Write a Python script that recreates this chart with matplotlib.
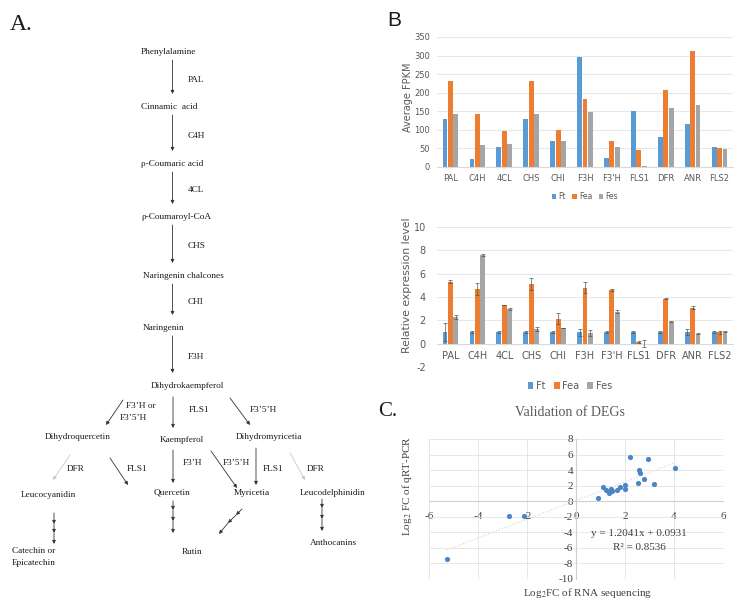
import matplotlib.pyplot as plt
import numpy as np

W, H = 749, 605

genes = ['PAL', 'C4H', '4CL', 'CHS', 'CHI', 'F3H', "F3'H", 'FLS1', 'DFR', 'ANR', 'FLS2']
groups = ['Ft', 'Fea', 'Fes']
colors = ['#5B9BD5', '#ED7D31', '#A5A5A5']

# B (top) average FPKM
fpkm_ft = [128, 22, 55, 128, 71, 295, 23, 152, 81, 117, 55]
fpkm_fea = [232, 143, 97, 232, 99, 184, 69, 47, 207, 311, 52]
fpkm_fes = [144, 58, 63, 144, 70, 147, 54, 4, 160, 168, 49]

# B (bottom) relative expression + error
rel_ft = [1, 1, 1, 1, 1, 1, 1, 1, 1, 1, 1]
rel_fea = [5.3, 4.7, 3.32, 5.1, 2.15, 4.8, 4.6, 0.12, 3.85, 3.1, 0.97]
rel_fes = [2.28, 7.6, 3.0, 1.25, 1.35, 0.9, 2.75, 0.0, 1.9, 0.85, 1.02]
err_ft = [0.75, 0.12, 0.05, 0.05, 0.12, 0.3, 0.05, 0.1, 0.05, 0.22, 0.05]
err_fea = [0.12, 0.5, 0.03, 0.5, 0.5, 0.45, 0.07, 0.1, 0.03, 0.1, 0.15]
err_fes = [0.15, 0.1, 0.1, 0.15, 0.03, 0.25, 0.1, 0.28, 0.03, 0.05, 0.05]

# C scatter
rna_fc = [-5.28, -2.73, -2.12, 0.91, 1.12, 1.22, 1.36, 1.43, 1.47, 1.66, 1.80,
          2.0, 2.0, 2.2, 2.52, 2.59, 2.61, 2.79, 2.95, 3.18, 4.04]
qpcr_fc = [-7.4, -1.93, -1.93, 0.35, 1.84, 1.5, 1.07, 1.54, 1.33, 1.41, 1.84,
           2.14, 1.54, 5.7, 2.36, 3.98, 3.68, 2.83, 5.4, 2.18, 4.28]
slope, intercept = 1.2041, 0.0931

serif = 'Liberation Serif'
plt.rcParams['mathtext.fontset'] = 'stix'
plt.rcParams['axes.unicode_minus'] = False

fig = plt.figure(figsize=(W / 100, H / 100), dpi=100)


def px_axes(l, t, r, b):
    return fig.add_axes([l / W, 1 - b / H, (r - l) / W, (b - t) / H])


# ---------- A: pathway diagram ----------
ax0 = fig.add_axes([0, 0, 1, 1])
ax0.set_xlim(0, W)
ax0.set_ylim(H, 0)
ax0.axis('off')

tc = '#1a1a1a'
fs = 6.7


def node(s, x, y, ha='left'):
    ax0.text(x, y, s, ha=ha, va='center', fontsize=fs, family=serif, color=tc)


def arrow(x0, y0, x1, y1, c='#333333'):
    ax0.annotate('', xy=(x1, y1), xytext=(x0, y0),
                 arrowprops=dict(arrowstyle='-|>', color=c, lw=0.6,
                                 mutation_scale=5, shrinkA=0, shrinkB=0))


ax0.text(10, 24, 'A.', fontsize=17, family=serif, va='center', color=tc)
ax0.text(387, 20, 'B', fontsize=15, family='Liberation Sans', va='center', color=tc)
ax0.text(378, 411, 'C.', fontsize=15, family=serif, va='center', color=tc)

steps = [('Phenylalamine', 52, 'PAL'), ('Cinnamic  acid', 107, 'C4H'),
         ('ρ-Coumaric acid', 164, '4CL'), ('ρ-Coumaroyl-CoA', 217, 'CHS'),
         ('Naringenin chalcones', 276, 'CHI'), ('Naringenin', 328, 'F3H')]
next_y = [107, 164, 217, 276, 328, 386]
for (name, y, enz), ny in zip(steps, next_y):
    node(name, 141 if 'Narin' not in name else 143, y)
    arrow(172.5, y + 8, 172.5, ny - 13)
    node(enz, 188, (y + ny) / 2)

node('Dihydrokaempferol', 187, 386, ha='center')
arrow(123, 400, 106, 425)
node('F3’H or', 126, 406)
node('F3’5’H', 120, 418)
arrow(173, 397, 173, 428)
node('FLS1', 189, 410)
arrow(230, 398, 250, 425)
node('F3’5’H', 250, 410)

node('Dihydroquercetin', 78, 437, ha='center')
node('Kaempferol', 182, 440, ha='center')
node('Dihydromyricetia', 269, 437, ha='center')

arrow(70, 455, 53, 480, c='#c8c8c8')
node('DFR', 67, 469)
arrow(110, 458, 128, 485)
node('FLS1', 127, 469)
arrow(173, 450, 173, 483)
node('F3’H', 183, 463)
arrow(211, 451, 237, 488)
node('F3’5’H', 223, 463)
arrow(256, 448, 256, 485)
node('FLS1', 263, 469)
arrow(290, 453, 305, 480, c='#c8c8c8')
node('DFR', 307, 469)

node('Leucocyanidin', 48, 495, ha='center')
node('Quercetin', 172, 493, ha='center')
node('Myricetia', 252, 493, ha='center')
node('Leucodelphinidin', 333, 493, ha='center')


def chain(pts):
    for (x0, y0), (x1, y1) in zip(pts[:-1], pts[1:]):
        arrow(x0, y0, x1, y1)


chain([(54, 513), (54, 524), (54, 533), (54, 544)])
chain([(173, 501), (173, 510), (173, 521), (173, 533)])
chain([(242, 509), (236, 515), (228, 523), (219, 534)])
chain([(322, 499), (322, 508), (322, 519), (322, 531)])

node('Rutin', 192, 552, ha='center')
node('Anthocanins', 333, 543, ha='center')
node('Catechin or', 12, 551)
node('Epicatechin', 12, 563)

# ---------- B top ----------
x = np.arange(len(genes))
bw = 0.18
off = [-0.2, 0, 0.2]
gray_txt = '#595959'

ax1 = px_axes(437, 37, 733, 167)
for vals, o, c, g in zip([fpkm_ft, fpkm_fea, fpkm_fes], off, colors, groups):
    ax1.bar(x + o, vals, bw, color=c, label=g, zorder=2)
ax1.set_xlim(-0.5, len(genes) - 0.5)
ax1.set_ylim(0, 350)
ax1.set_yticks(np.arange(0, 351, 50))
ax1.set_xticks(x)
ax1.set_xticklabels(genes)
ax1.grid(axis='y', color='#e3e3e3', lw=0.6, zorder=0)
for s in ['top', 'right', 'left']:
    ax1.spines[s].set_visible(False)
ax1.spines['bottom'].set_color('#d9d9d9')
ax1.tick_params(length=0, labelsize=6, labelcolor=gray_txt, pad=5)
fig.text(408 / W, 1 - 97 / H, 'Average FPKM', fontsize=7, color=gray_txt,
         rotation=90, ha='center', va='center')
ax1.legend(loc='center', bbox_to_anchor=(585 / W, 1 - 197 / H), bbox_transform=fig.transFigure,
           ncol=3, frameon=False, fontsize=5.5, handlelength=0.6, handleheight=0.6,
           columnspacing=0.8, handletextpad=0.3, labelcolor=gray_txt)

# ---------- B bottom ----------
ax2 = px_axes(437, 227, 733, 367)
for vals, errs, o, c, g in zip([rel_ft, rel_fea, rel_fes], [err_ft, err_fea, err_fes],
                               off, colors, groups):
    ax2.bar(x + o, vals, bw, color=c, label=g, zorder=2)
    ax2.errorbar(x + o, vals, yerr=errs, fmt='none', ecolor='#555555',
                 elinewidth=0.5, capsize=1.5, capthick=0.5, zorder=3)
ax2.set_xlim(-0.5, len(genes) - 0.5)
ax2.set_ylim(-2, 10)
ax2.set_yticks(np.arange(-2, 11, 2))
ax2.set_xticks(x)
ax2.set_xticklabels(genes)
ax2.grid(axis='y', color='#e3e3e3', lw=0.6, zorder=0)
for s in ['top', 'right', 'left']:
    ax2.spines[s].set_visible(False)
ax2.spines['bottom'].set_position(('data', 0))
ax2.spines['bottom'].set_color('#d9d9d9')
ax2.tick_params(axis='x', length=0, labelsize=7, labelcolor=gray_txt, pad=5)
ax2.tick_params(axis='y', length=0, labelsize=7, labelcolor=gray_txt, pad=8)
fig.text(407 / W, 1 - 285 / H, 'Relative expression level', fontsize=7.8, color=gray_txt,
         rotation=90, ha='center', va='center')
ax2.legend(loc='center', bbox_to_anchor=(570 / W, 1 - 386 / H), bbox_transform=fig.transFigure,
           ncol=3, frameon=False, fontsize=7, handlelength=0.6, handleheight=0.6,
           columnspacing=0.8, handletextpad=0.3, labelcolor=gray_txt)

# ---------- C scatter ----------
ax3 = px_axes(429, 439, 723, 579)
xl = np.array([min(rna_fc), max(rna_fc)])
ax3.plot(xl, slope * xl + intercept, ls=':', color='#d0d0d0', lw=0.8, zorder=1)
ax3.scatter(rna_fc, qpcr_fc, s=14, color='#4a86c5', zorder=3, linewidths=0)
ax3.set_xlim(-6, 6)
ax3.set_ylim(-10, 8)
ax3.set_xticks(np.arange(-6, 7, 2))
ax3.set_yticks(np.arange(-10, 9, 2))
ax3.grid(color='#e3e3e3', lw=0.6, zorder=0)
ax3.spines['top'].set_visible(False)
ax3.spines['right'].set_visible(False)
ax3.spines['left'].set_position(('data', 0))
ax3.spines['bottom'].set_position(('data', 0))
ax3.spines['left'].set_color('#cfcfcf')
ax3.spines['bottom'].set_color('#cfcfcf')
ax3.tick_params(axis='x', length=0, labelsize=8, labelcolor='#404040', pad=8)
ax3.tick_params(axis='y', length=0, labelsize=8, labelcolor='#404040', pad=2)
for lab in ax3.get_xticklabels() + ax3.get_yticklabels():
    lab.set_family(serif)
ax3.text(2.55, -4.1, 'y = 1.2041x + 0.0931', fontsize=8, family=serif, color='#404040',
         ha='center', va='center')
ax3.text(2.6, -5.9, 'R² = 0.8536', fontsize=8, family=serif, color='#404040',
         ha='center', va='center')

fig.text(570 / W, 1 - 413 / H, 'Validation of DEGs', fontsize=10, family=serif,
         color='#595959', ha='center', va='center')
fig.text(588 / W, 1 - 593 / H, r'Log$_2$FC of RNA sequencing', fontsize=8, family=serif,
         color='#404040', ha='center', va='center')
fig.text(407 / W, 1 - 486 / H, r'Log$_2$ FC of qRT-PCR', fontsize=8, family=serif,
         color='#404040', ha='center', va='center', rotation=90)

fig.savefig('out.png', dpi=100)
